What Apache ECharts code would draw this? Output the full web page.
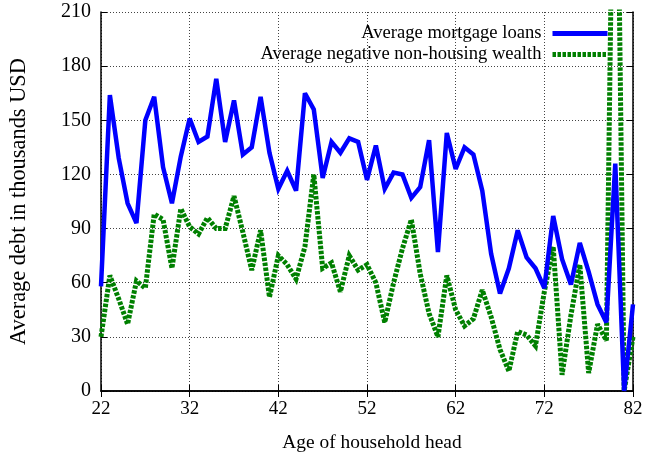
<!DOCTYPE html>
<html>
<head>
<meta charset="utf-8">
<script src="https://cdn.jsdelivr.net/npm/echarts@6/dist/echarts.min.js"></script>
<style>
  html, body { margin: 0; padding: 0; background: #fff; }
  #chart { width: 649px; height: 459px; }
</style>
</head>
<body>
<div id="chart"></div>
<script>
// Age of household head, one category per year
const ages = [];
for (let a = 22; a <= 82; a++) ages.push(String(a));

// Average mortgage loans (thousands USD), ages 22..82
const mortgage = [
  58, 164, 129, 104, 93, 150, 163, 124, 104, 130,   // 22-31
  151, 138, 141, 173, 138, 161, 131, 135, 163, 132, // 32-41
  112, 122, 111, 165, 156, 118, 138, 132, 140, 138, // 42-51
  117, 136, 112, 121, 120, 107, 113, 139, 77, 143,  // 52-61
  123, 135, 131, 111, 76, 54, 68, 89, 74, 68,       // 62-71
  57, 97, 73, 59, 82, 66, 48, 38, 126, 0,           // 72-81
  48                                                // 82
];

// Average negative non-housing wealth (thousands USD), ages 22..82
const nonHousing = [
  30, 64, 51, 37, 61, 57, 98, 95, 68, 101,          // 22-31
  91, 87, 96, 90, 90, 108, 88, 67, 89, 52,          // 32-41
  75, 70, 62, 80, 120, 68, 71, 55, 75, 67,          // 42-51
  70, 60, 38, 60, 79, 95, 65, 43, 30, 64,           // 52-61
  45, 36, 40, 56, 41, 23, 11, 33, 31, 25,           // 62-71
  55, 80, 9, 42, 70, 10, 37, 28, 400, 0,            // 72-81
  30                                                // 82
];

const seriesNames = ['Average mortgage loans', 'Average negative non-housing wealth'];
const yTicks = { min: 0, max: 210, step: 30 };

const FONT = 'Liberation Serif, Times New Roman, serif';
const gridLine = { show: true, lineStyle: { color: '#444', width: 1, type: [1, 2] } };
const frame = { show: true, lineStyle: { color: '#000', width: 1.5 } };
const tick = { show: true, inside: true, length: 6, lineStyle: { color: '#000', width: 1 } };

const blueStyle = { color: '#0000ff', width: 4.5, join: 'miter', miterLimit: 3, cap: 'butt' };
const greenStyle = { color: '#008000', width: 5, type: [3.5, 1.5], cap: 'butt', join: 'miter', miterLimit: 3 };

const chart = echarts.init(document.getElementById('chart'), null, { renderer: 'canvas' });
chart.setOption({
  animation: false,
  backgroundColor: '#fff',
  textStyle: { fontFamily: FONT, color: '#000' },
  grid: { left: 99, right: 16, top: 12, bottom: 68, containLabel: false },
  legend: {
    orient: 'vertical',
    right: 34,
    top: 19,
    align: 'right',
    itemWidth: 55,
    itemHeight: 14,
    itemGap: 2,
    itemStyle: { color: 'rgba(0,0,0,0)', borderColor: 'rgba(0,0,0,0)', borderWidth: 0 },
    lineStyle: { width: 5 },
    textStyle: { fontFamily: FONT, fontSize: 18.6, color: '#000', padding: [0, 6, 0, 0] },
    data: seriesNames
  },
  xAxis: [
    {
      type: 'category',
      data: ages,
      boundaryGap: false,
      position: 'bottom',
      name: 'Age of household head',
      nameLocation: 'middle',
      nameGap: 42,
      nameTextStyle: { fontFamily: FONT, fontSize: 19.4, color: '#000', padding: [0, 0, 0, 10] },
      axisLine: frame,
      axisTick: Object.assign({ interval: 9 }, tick),
      axisLabel: { interval: 9, margin: 9, fontFamily: FONT, fontSize: 19, color: '#000' },
      splitLine: Object.assign({ interval: 9 }, gridLine)
    },
    {
      type: 'category',
      data: ages,
      boundaryGap: false,
      position: 'top',
      axisLine: frame,
      axisTick: Object.assign({ interval: 9 }, tick),
      axisLabel: { show: false },
      splitLine: { show: false }
    }
  ],
  yAxis: [
    {
      type: 'value',
      min: yTicks.min,
      max: yTicks.max,
      interval: yTicks.step,
      position: 'left',
      name: 'Average debt in thousands USD',
      nameLocation: 'middle',
      nameGap: 71,
      nameTextStyle: { fontFamily: FONT, fontSize: 22.4, color: '#000' },
      axisLine: frame,
      axisTick: tick,
      axisLabel: { margin: 10, fontFamily: FONT, fontSize: 20, color: '#000' },
      splitLine: gridLine
    },
    {
      type: 'value',
      min: yTicks.min,
      max: yTicks.max,
      interval: yTicks.step,
      position: 'right',
      axisLine: frame,
      axisTick: tick,
      axisLabel: { show: false },
      splitLine: { show: false }
    }
  ],
  series: [
    {
      name: seriesNames[0],
      type: 'line',
      data: mortgage,
      symbol: 'none',
      clip: true,
      color: '#0000ff',
      lineStyle: blueStyle,
      z: 3
    },
    {
      name: seriesNames[1],
      type: 'line',
      data: nonHousing,
      symbol: 'none',
      clip: true,
      color: '#008000',
      lineStyle: greenStyle,
      z: 2
    }
  ]
});
</script>
</body>
</html>
